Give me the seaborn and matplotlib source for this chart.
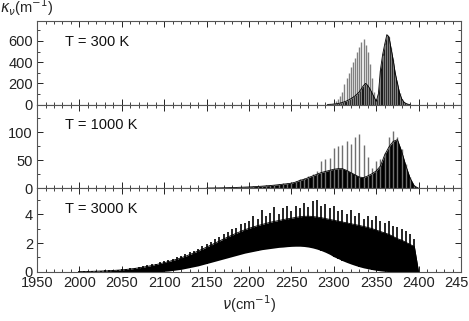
import numpy as np
import pandas as pd
import matplotlib
matplotlib.use('Agg')
import matplotlib.pyplot as plt
from matplotlib.ticker import MultipleLocator
import seaborn as sns

# ---------------- data ----------------
# T = 300 K, grid 2292.5 .. 2390 step 2.5 cm-1
nu_300 = np.arange(2292.5, 2390.1, 2.5)
core_300 = [1, 2, 3, 5, 7, 10, 14, 20, 26, 34, 44, 55, 68, 82, 100, 120,
            150, 180, 200, 180, 150, 110, 70, 30,
            100, 330, 470, 570, 660, 640, 530, 420, 290, 200, 110, 55, 25, 10, 3, 0]
tip_300 = [2, 5, 8, 15, 30, 50, 80, 120, 190, 250, 300, 350, 400, 440, 500, 540,
           590, 620, 560, 500, 380, 250, 120, 40,
           100, 330, 470, 570, 660, 640, 530, 420, 290, 200, 110, 55, 25, 10, 3, 0]

# T = 1000 K, grid 2150 .. 2400 step 5 cm-1
nu_1000 = np.arange(2150, 2401, 5)
core_1000 = [0.3, 0.4, 0.5, 0.6, 0.8, 1.0, 1.2, 1.4, 1.7, 2.0,
             2.3, 2.7, 3.1, 3.6, 4.2, 4.8, 5.5, 6.3, 7.2, 8.0,
             9, 11, 14, 16, 19, 22, 25, 28, 30, 32,
             34, 35, 35, 32, 28, 24, 20, 19, 22, 26,
             31, 40, 60, 74, 84, 87, 66, 40, 18, 4,
             0]
tip_1000 = [0.4, 0.5, 0.6, 0.8, 1.0, 1.2, 1.5, 1.8, 2.1, 2.5,
            2.9, 3.3, 3.8, 4.4, 5.0, 5.8, 6.6, 7.6, 8.6, 9.6,
            11, 13, 16, 19, 22, 26, 30, 48, 52, 55,
            72, 75, 78, 84, 80, 92, 98, 78, 56, 36,
            48, 52, 64, 92, 103, 92, 70, 44, 20, 5,
            0]

# T = 3000 K, grid 2000 .. 2400 step 5 cm-1
nu_3000 = np.arange(2000, 2401, 5)
lo_3000 = [0] * 20 + [
    0.04, 0.06, 0.1, 0.14, 0.18, 0.24, 0.3, 0.36, 0.42, 0.5,
    0.58, 0.66, 0.74, 0.82, 0.9, 0.98, 1.06, 1.14, 1.22, 1.3,
    1.36, 1.42, 1.48, 1.54, 1.58, 1.62, 1.66, 1.7, 1.72, 1.75,
    1.77, 1.78, 1.78, 1.76, 1.72, 1.66, 1.58, 1.48, 1.36, 1.22,
    1.05, 0.92, 0.78, 0.66, 0.55, 0.45, 0.36, 0.28, 0.22, 0.16,
    0.11, 0.07, 0.04, 0.02, 0, 0, 0, 0, 0, 0,
    0]
core_3000 = [0.02, 0.02, 0.03, 0.04, 0.05, 0.06, 0.07, 0.08, 0.1, 0.12,
             0.14, 0.17, 0.2, 0.24, 0.28, 0.33, 0.38, 0.44, 0.5, 0.57,
             0.64, 0.71, 0.8, 0.88, 0.98, 1.08, 1.2, 1.32, 1.45, 1.58,
             1.72, 1.86, 2.0, 2.14, 2.28, 2.42, 2.55, 2.68, 2.8, 2.92,
             3.02, 3.12, 3.2, 3.28, 3.36, 3.44, 3.5, 3.56, 3.62, 3.68,
             3.72, 3.78, 3.82, 3.85, 3.86, 3.84, 3.8, 3.76, 3.7, 3.64,
             3.58, 3.52, 3.46, 3.4, 3.34, 3.28, 3.22, 3.15, 3.08, 3.0,
             2.9, 2.8, 2.7, 2.6, 2.45, 2.3, 2.2, 2.05, 1.9, 1.75,
             0.0]
tip_3000 = [0.03, 0.04, 0.05, 0.06, 0.07, 0.08, 0.1, 0.12, 0.14, 0.16,
            0.19, 0.22, 0.26, 0.3, 0.35, 0.4, 0.46, 0.52, 0.58, 0.66,
            0.74, 0.82, 0.92, 1.0, 1.12, 1.22, 1.36, 1.48, 1.62, 1.76,
            1.92, 2.1, 2.25, 2.4, 2.6, 2.75, 2.95, 3.05, 3.3, 3.4,
            3.55, 3.9, 3.7, 4.3, 3.9, 4.1, 4.5, 4.0, 4.4, 4.6,
            4.2, 4.6, 4.4, 4.8, 4.5, 4.9, 5.0, 4.6, 4.7, 4.4,
            4.6, 4.2, 4.3, 4.0, 4.3, 3.9, 4.1, 3.7, 3.9, 3.6,
            3.9, 3.5, 3.4, 3.5, 3.2, 3.1, 3.0, 2.8, 2.6, 2.3,
            0.0]

labels = ['T = 300 K', 'T = 1000 K', 'T = 3000 K']
ylims = [790, 150, 5.8]
yticks = [[0, 200, 400, 600], [0, 50, 100], [0, 2, 4]]
yminor = [100, 25, 1]

# ---------------- plot ----------------
sns.set_style('ticks')
plt.rcParams['font.family'] = ['Liberation Sans', 'DejaVu Sans']
plt.rcParams['mathtext.fontset'] = 'dejavusans'

fig, axes = plt.subplots(3, 1, figsize=(4.69, 3.21), dpi=100, sharex=True)
fig.subplots_adjust(left=0.079, right=0.983, bottom=0.153, top=0.935, hspace=0)

panels = [
    (nu_300, [0] * len(nu_300), core_300, tip_300, '#808080', 1.0),
    (nu_1000, [0] * len(nu_1000), core_1000, tip_1000, '#707070', 1.0),
    (nu_3000, lo_3000, core_3000, tip_3000, '#000000', 1.2),
]

for i, ax in enumerate(axes):
    nu, lo, core, tip, spike_col, spike_lw = panels[i]
    df = pd.DataFrame({'nu': nu, 'lo': lo, 'core': core, 'tip': tip})
    ax.vlines(df['nu'], df['lo'], df['tip'], color=spike_col, lw=spike_lw)
    ax.fill_between(df['nu'], df['lo'], df['core'], color='black', lw=0)
    sns.lineplot(data=df, x='nu', y='core', ax=ax, color='black', lw=0.6)

    ax.set_xlim(1950, 2450)
    ax.set_ylim(0, ylims[i])
    ax.set_yticks(yticks[i])
    ax.yaxis.set_minor_locator(MultipleLocator(yminor[i]))
    ax.xaxis.set_major_locator(MultipleLocator(50))
    ax.xaxis.set_minor_locator(MultipleLocator(10))
    ax.tick_params(which='both', direction='in', top=True, right=True,
                   labelsize=10.5, colors='#222222', pad=3)
    ax.tick_params(which='major', length=4, width=0.7)
    ax.tick_params(which='minor', length=2, width=0.6)
    ax.set_xlabel('')
    ax.set_ylabel('')
    for s in ax.spines.values():
        s.set_color('#555555')
        s.set_linewidth(0.8)
    ax.text(0.066, 0.75, labels[i], transform=ax.transAxes, fontsize=10.5,
            va='center', ha='left', color='#111111')

axes[2].set_xlabel(r'$\nu$(cm$^{-1}$)', fontsize=10.5, labelpad=2)
fig.text(0.0, 0.978, r'$\kappa_\nu$(m$^{-1}$)', fontsize=10.5, ha='left', va='center')

fig.savefig('out.png', dpi=100)
